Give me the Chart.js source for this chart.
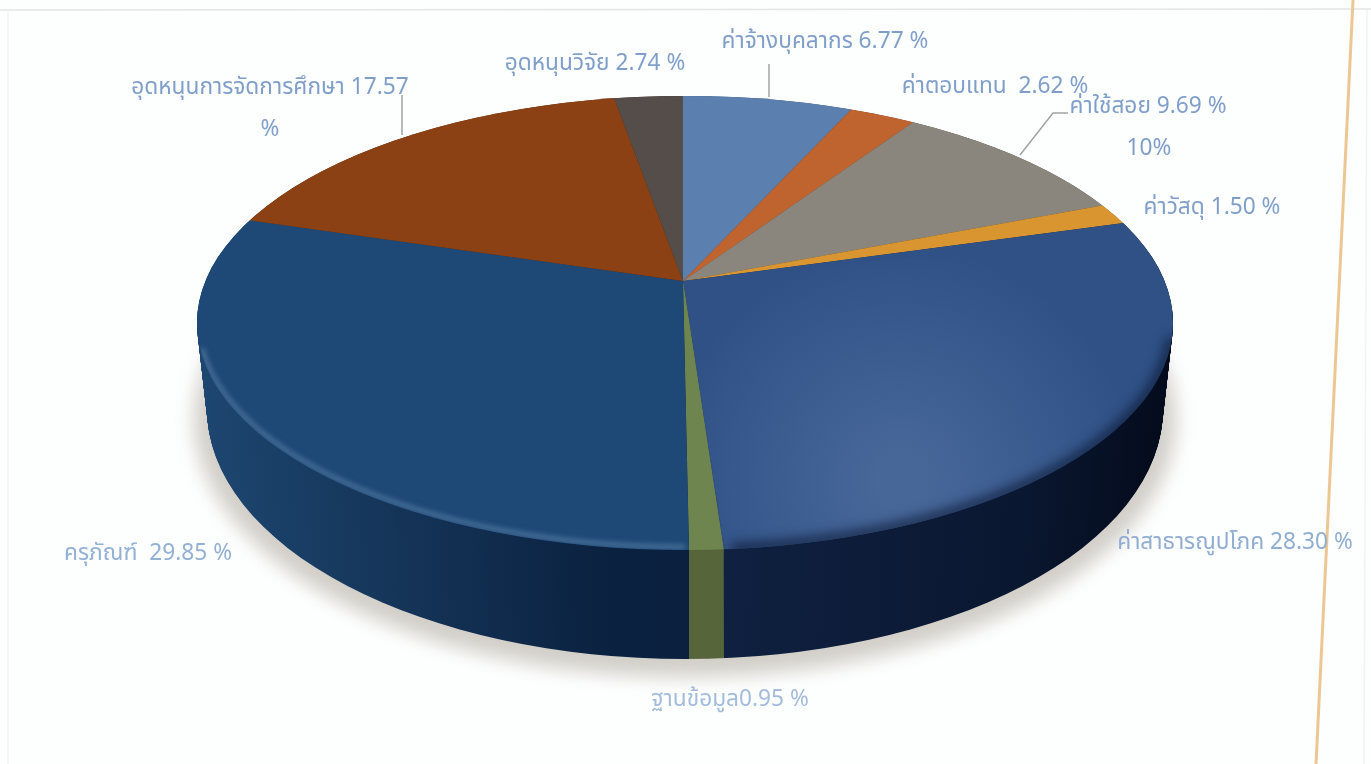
<!DOCTYPE html>
<html><head><meta charset="utf-8">
<style>html,body{margin:0;padding:0;background:#fff;overflow:hidden}canvas{display:block}</style>
<script src="https://cdn.jsdelivr.net/npm/chart.js@4/dist/chart.umd.min.js"></script>
</head><body><canvas id="c" width="1371" height="764"></canvas>
<script>
// ---- data ----
const categories = ['ค่าจ้างบุคลากร','ค่าตอบแทน','ค่าใช้สอย','ค่าวัสดุ','ค่าสาธารณูปโภค','ฐานข้อมูล','ครุภัณฑ์','อุดหนุนการจัดการศึกษา','อุดหนุนวิจัย'];
const values = [6.77,2.62,9.69,1.50,28.30,0.95,29.85,17.57,2.74];
const valueTexts = ['6.77 %','2.62 %','9.69 %','1.50 %','28.30 %','0.95 %','29.85 %','17.57','2.74 %'];
const separators = [' ','  ',' ',' ',' ','','  ',' ',' '];
const secondLines = ['','','10%','','','','','%',''];
// ---- styles ----
const topColors = ['#5b7fae','#c0642f','#8b867d','#d9952f','#2f5186','#6f8550','#1e4876','#8b4114','#544d49'];
const sideLeft  = ['#3a5474','#7a3f1c','#575349','#8a5f1d','#0f1e3e','#55643a','#1c4069','#58290c','#34302c'];
const sideRight = ['#2d4563','#6a3618','#4a463e','#754f18','#071024','#56653a','#0a1d3a','#4d240b','#2d2926'];
const labelAnchors = [[825,43],[995,88],[1148,108],[1212,209],[1235,544],[730,701],[148,555],[270,89],[595,65]];
const secondAnchors = [null,null,[1149,150],null,null,null,null,[270,131],null];
const labelColors = ['#7f9fca','#7f9fca','#7f9fca','#7f9fca','#90add2','#a3bcdc','#93b0d5','#7f9fca','#7f9fca'];
const leaders = [[[769,64],[769,97]],[[402,95],[402,135]],[[1020,155],[1053,113],[1068,113]]];

const APEX = {x:683,y:281}, SQUASH = .462;
const TOP = {cy:323,rx:488,ry:227}, BOT = {cy:409,rx:478,ry:250}, CX = 685, DEPTH = 108;

function ellipsePath(ctx,cy,rx,ry){ctx.beginPath();ctx.ellipse(CX,cy,rx,ry,0,0,Math.PI*2);}
function squash(ctx,dy){ctx.translate(0,APEX.y+dy);ctx.scale(1,SQUASH);ctx.translate(0,-APEX.y);}

const pie3d = {
  id:'pie3d',
  beforeDraw(chart){
    const ctx=chart.ctx; ctx.save();
    ctx.fillStyle='#fdfefe';ctx.fillRect(0,0,1371,764);
    ctx.strokeStyle='#e4e4e4';ctx.lineWidth=1.5;
    ctx.beginPath();ctx.moveTo(0,10);ctx.lineTo(1371,9);ctx.stroke();
    ctx.strokeStyle='#f1f2f2';
    ctx.beginPath();ctx.moveTo(8,10);ctx.lineTo(8,764);ctx.stroke();
    ctx.beginPath();ctx.moveTo(1367,10);ctx.lineTo(1364,764);ctx.stroke();
    ctx.strokeStyle='#edc793';ctx.lineWidth=3;
    ctx.beginPath();ctx.moveTo(1353,0);ctx.lineTo(1316,764);ctx.stroke();
    ctx.restore();
  },
  beforeDatasetsDraw(chart){
    const ctx=chart.ctx, arcs=chart.getDatasetMeta(0).data;
    // ground shadow, kept to the lower half
    ctx.save();
    ctx.beginPath();ctx.rect(0,340,1335,424);ctx.clip();
    ctx.filter='blur(9px)';ctx.fillStyle='#d2cfc9';
    ellipsePath(ctx,BOT.cy+10,BOT.rx+13,BOT.ry+8);ctx.fill();ctx.restore();
    ctx.save();ctx.strokeStyle='#a2a2a2';ctx.lineWidth=1.5;
    leaders.forEach(l=>{ctx.beginPath();l.forEach((p,i)=>i?ctx.lineTo(p[0],p[1]):ctx.moveTo(p[0],p[1]));ctx.stroke();});
    ctx.restore();
    // side wall, deepest layer first, drawn with the chart's own arcs
    for(let d=DEPTH;d>=0;d--){
      const t=d/DEPTH, cy=TOP.cy+(BOT.cy-TOP.cy)*t, rx=TOP.rx+(BOT.rx-TOP.rx)*t, ry=TOP.ry+(BOT.ry-TOP.ry)*t;
      ctx.save();
      ellipsePath(ctx,cy,rx,ry);ctx.clip();
      squash(ctx,d);
      arcs.forEach((a,i)=>{
        const g=ctx.createLinearGradient(CX-rx,0,CX+rx,0);
        if(i===6){g.addColorStop(0,'#1d4670');g.addColorStop(.22,'#143356');g.addColorStop(.42,'#0b2140');g.addColorStop(1,'#0a1c38');}
        else if(i===4){g.addColorStop(0,'#0f2040');g.addColorStop(.55,'#0f2040');g.addColorStop(.85,'#0a1730');g.addColorStop(1,'#040b1c');}
        else {g.addColorStop(0,sideLeft[i]);g.addColorStop(1,sideRight[i]);}
        const keep=a.options.backgroundColor;
        a.options.backgroundColor=g;a.draw(ctx);a.options.backgroundColor=keep;
      });
      ctx.restore();
    }
    // top surface: transform picked up by the chart's dataset drawing
    ctx.save();
    ellipsePath(ctx,TOP.cy,TOP.rx,TOP.ry);ctx.clip();
    squash(ctx,0);
  },
  afterDatasetsDraw(chart){
    const ctx=chart.ctx;
    ctx.restore();
    // lighting on the top surface
    ctx.save();
    ellipsePath(ctx,TOP.cy,TOP.rx,TOP.ry);ctx.clip();
    ctx.save();
    ctx.beginPath();ctx.moveTo(APEX.x,APEX.y);ctx.lineTo(727,560);ctx.lineTo(1200,560);ctx.lineTo(1200,228);ctx.closePath();ctx.clip();
    const g=ctx.createRadialGradient(900,480,20,900,480,235);
    g.addColorStop(0,'rgba(150,175,215,.24)');g.addColorStop(1,'rgba(150,175,215,0)');
    ctx.fillStyle=g;ctx.fillRect(0,0,1371,764);
    ctx.restore();
    // dark fall-off at the rim on the right, bevel highlight on the left
    ctx.filter='blur(6px)';ctx.strokeStyle='rgba(8,20,45,.7)';ctx.lineWidth=11;
    ctx.beginPath();ctx.ellipse(CX,TOP.cy,TOP.rx,TOP.ry,0,Math.PI*.02,Math.PI*.47);ctx.stroke();
    ctx.filter='blur(2.5px)';ctx.strokeStyle='rgba(110,150,185,.5)';ctx.lineWidth=5;
    ctx.beginPath();ctx.ellipse(CX,TOP.cy-3,TOP.rx-1,TOP.ry,0,Math.PI*.5,Math.PI*.96);ctx.stroke();
    ctx.restore();
    // labels
    ctx.save();ctx.textAlign='center';ctx.textBaseline='middle';
    ctx.font='22.7px "Noto Sans Thai","Noto Sans","DejaVu Sans",sans-serif';
    categories.forEach((c,i)=>{
      ctx.fillStyle=labelColors[i];
      ctx.fillText(c+separators[i]+valueTexts[i],labelAnchors[i][0],labelAnchors[i][1]);
      if(secondLines[i]) ctx.fillText(secondLines[i],secondAnchors[i][0],secondAnchors[i][1]);
    });
    ctx.restore();
  }
};

new Chart(document.getElementById('c'),{
  type:'pie',
  data:{labels:categories,datasets:[{data:values,backgroundColor:topColors,borderWidth:0,radius:1300,clip:false}]},
  options:{
    responsive:false,animation:false,
    layout:{padding:{left:0,right:5,top:0,bottom:202}},
    plugins:{legend:{display:false},tooltip:{enabled:false},title:{display:false}}
  },
  plugins:[pie3d]
});
</script></body></html>
